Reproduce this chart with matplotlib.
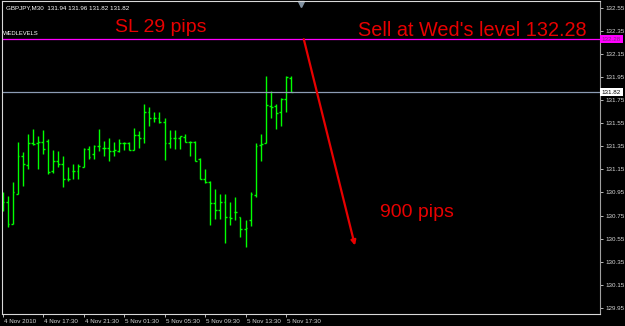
import numpy as np
import matplotlib
matplotlib.use("Agg")
import matplotlib.pyplot as plt
import matplotlib.transforms as mtransforms

# GBPJPY M30 bars, 4 Nov 13:30 -> 5 Nov 18:00
opens = [130.89, 130.87, 130.68, 130.94, 131.27, 131.19, 131.38, 131.38, 131.39, 131.40,
         131.14, 131.22, 131.20, 131.07, 131.14, 131.14, 131.17, 131.33, 131.28, 131.35,
         131.34, 131.34, 131.31, 131.31, 131.38, 131.38, 131.32, 131.45, 131.42, 131.65,
         131.60, 131.60, 131.56, 131.38, 131.42, 131.42, 131.43, 131.39, 131.39, 131.24,
         131.07, 131.04, 130.86, 130.80, 130.87, 130.74, 130.78, 130.74, 130.63, 130.71,
         130.93, 131.36, 131.38, 131.70, 131.70, 131.65, 131.76, 131.94]
highs = [130.95, 130.92, 131.04, 131.39, 131.30, 131.46, 131.50, 131.44, 131.49, 131.41,
         131.32, 131.31, 131.27, 131.17, 131.20, 131.20, 131.34, 131.35, 131.36, 131.50,
         131.40, 131.42, 131.39, 131.41, 131.39, 131.39, 131.51, 131.48, 131.72, 131.69,
         131.65, 131.65, 131.60, 131.49, 131.49, 131.44, 131.46, 131.40, 131.40, 131.25,
         131.15, 131.05, 130.98, 130.94, 130.94, 130.87, 130.91, 130.74, 130.71, 130.95,
         131.38, 131.46, 131.96, 131.83, 131.72, 131.77, 131.96, 131.96]
lows = [130.79, 130.65, 130.68, 130.94, 131.01, 131.15, 131.36, 131.15, 131.28, 131.11,
        131.12, 131.17, 131.00, 131.05, 131.07, 131.07, 131.17, 131.24, 131.24, 131.31,
        131.27, 131.22, 131.27, 131.30, 131.32, 131.32, 131.32, 131.34, 131.38, 131.53,
        131.56, 131.55, 131.23, 131.34, 131.33, 131.33, 131.39, 131.27, 131.22, 131.07,
        131.03, 130.67, 130.72, 130.72, 130.51, 130.67, 130.71, 130.56, 130.48, 130.66,
        130.91, 131.22, 131.38, 131.60, 131.50, 131.53, 131.65, 131.82]
closes = [130.87, 130.68, 130.95, 131.27, 131.20, 131.38, 131.37, 131.39, 131.33, 131.13,
          131.22, 131.20, 131.07, 131.07, 131.14, 131.18, 131.33, 131.26, 131.35, 131.35,
          131.34, 131.31, 131.32, 131.38, 131.38, 131.32, 131.45, 131.42, 131.65, 131.60,
          131.60, 131.56, 131.38, 131.42, 131.42, 131.44, 131.39, 131.39, 131.22, 131.07,
          131.04, 130.86, 130.80, 130.87, 130.74, 130.73, 130.78, 130.63, 130.64, 130.94,
          131.35, 131.37, 131.71, 131.69, 131.64, 131.76, 131.95, 131.82]

time_labels = ["4 Nov 2010", "4 Nov 17:30", "4 Nov 21:30", "5 Nov 01:30",
               "5 Nov 05:30", "5 Nov 09:30", "5 Nov 13:30", "5 Nov 17:30"]
wed_level = 132.28
last_price = 131.82
header = "GBPJPY,M30  131.94 131.96 131.82 131.82"

FONT = "Liberation Sans"
GREEN = "#00ff00"
RED = "#e80000"

fig = plt.figure(figsize=(6.25, 3.26), dpi=100, facecolor="black")
ax = fig.add_axes([2 / 625, 12 / 326, 598 / 625, 313 / 326], facecolor="black")

x = np.arange(len(opens))
ax.vlines(x, lows, highs, color=GREEN, lw=1.0)
ax.hlines(opens, x - 0.35, x, color=GREEN, lw=1.0)
ax.hlines(closes, x, x + 0.35, color=GREEN, lw=1.0)

ax.axhline(wed_level, color="#ff00ff", lw=0.9)
ax.axhline(last_price, color="#8c9cb4", lw=0.9)

ax.set_xlim(-0.1, 118.0)
ax.set_ylim(129.896, 132.611)

# axes frame and ticks, MT4 style
for side in ["left", "top", "bottom"]:
    ax.spines[side].set_color("#d8d8d8")
ax.spines["right"].set_color("#a0a0a0")
ax.yaxis.tick_right()
ax.set_yticks(np.round(np.arange(129.95, 132.56, 0.2), 2))
ax.yaxis.set_major_formatter(matplotlib.ticker.FormatStrFormatter("%.2f"))
ax.tick_params(axis="y", colors="#d8d8d8", length=2, width=0.6, pad=2,
               labelsize=4.5, labelfontfamily=FONT)
ax.set_xticks(x[::8])
ax.set_xticklabels(time_labels, ha="left")
ax.tick_params(axis="x", colors="#d8d8d8", length=2, width=0.6, pad=1.5,
               labelsize=4.5, labelfontfamily=FONT)
for lbl in ax.get_xticklabels():
    lbl.set_transform(lbl.get_transform() + mtransforms.ScaledTranslation(1 / 100, 0, fig.dpi_scale_trans))

# price tags on the right scale
blend = mtransforms.blended_transform_factory(ax.transAxes, ax.transData)
ax.text(1.003, wed_level, f"{wed_level:.2f}", transform=blend, fontsize=4.5, family=FONT,
        color="#7a2a7a", va="center", ha="left",
        bbox=dict(boxstyle="square,pad=0.25", fc="#ff00ff", ec="none"))
ax.text(1.003, last_price, f"{last_price:.2f}", transform=blend, fontsize=4.5, family=FONT,
        color="black", va="center", ha="left",
        bbox=dict(boxstyle="square,pad=0.25", fc="white", ec="none"))

# chart labels
ax.text(0.006, 0.985, header, transform=ax.transAxes, fontsize=4.5, family=FONT,
        color="white", va="top", ha="left")
ax.text(0.002, wed_level + 0.03, "WEDLEVELS", transform=blend, fontsize=4.2, family=FONT,
        color="white", va="bottom", ha="left")
ax.plot([0.4995], [0.99], marker="v", color="#8090a0", ms=4, transform=ax.transAxes,
        clip_on=False)

# annotations
ax.text(22.3, 132.342, "SL 29 pips", fontsize=14, family=FONT, color=RED, va="baseline")
ax.text(70.2, 132.31, "Sell at Wed's level 132.28", fontsize=14.3, family=FONT, color=RED,
        va="baseline")
ax.text(74.6, 130.739, "900 pips", fontsize=14, family=FONT, color=RED, va="baseline")
ax.annotate("", xy=(69.6, 130.49), xytext=(59.5, 132.28),
            arrowprops=dict(arrowstyle="-|>", color=RED, lw=1.6, mutation_scale=7,
                            shrinkA=0, shrinkB=0))

fig.savefig("out.png", dpi=100, facecolor="black")
